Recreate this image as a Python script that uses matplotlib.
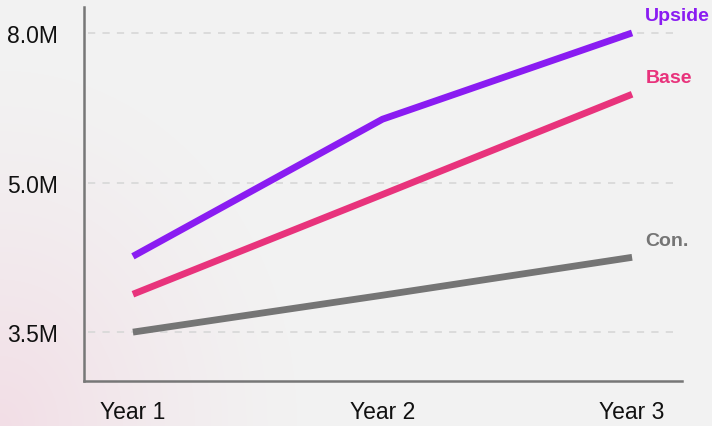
import numpy as np
import matplotlib
matplotlib.use("Agg")
import matplotlib.pyplot as plt

years = ["Year 1", "Year 2", "Year 3"]
upside = [4.26, 6.27, 8.0]
base = [3.88, 4.88, 6.77]
con = [3.5, 3.87, 4.25]
ytick_vals = [3.5, 5.0, 8.0]
ytick_labels = ["3.5M", "5.0M", "8.0M"]

series = [
    ("Upside", upside, "#8A1CF2"),
    ("Base", base, "#E8337C"),
    ("Con.", con, "#757575"),
]

plt.rcParams['font.family'] = ['Liberation Sans', 'DejaVu Sans']

fig = plt.figure(figsize=(7.12, 4.27), dpi=100)

# background with soft pink glow at lower left
H, W = 427, 712
yy, xx = np.mgrid[0:H, 0:W]
d = np.sqrt((xx / W * 1.8) ** 2 + ((H - yy) / H * 0.9) ** 2)
w = np.clip(1 - d / 0.75, 0, 1) ** 1.3
bgc = np.array([242, 242, 242]) / 255
pk = np.array([243, 222, 230]) / 255
img = bgc[None, None, :] * (1 - w[..., None]) + pk[None, None, :] * w[..., None]
axbg = fig.add_axes([0, 0, 1, 1], zorder=-10)
axbg.imshow(img, aspect='auto', origin='upper')
axbg.axis('off')


def fwd(v):
    v = np.asarray(v, dtype=float)
    return np.where(v < 5.0, (v - 3.5) / 1.5, 1 + (v - 5.0) / 3.0)


def inv(u):
    u = np.asarray(u, dtype=float)
    return np.where(u < 1.0, 3.5 + 1.5 * u, 5.0 + 3.0 * (u - 1))


ax = fig.add_axes([84 / 712, 1 - 382 / 427, (682 - 84) / 712, (382 - 8) / 427])
ax.patch.set_alpha(0)
ax.set_yscale('function', functions=(fwd, inv))

x = np.arange(len(years))
for name, vals, col in series:
    ax.plot(x, vals, color=col, lw=4.9, solid_capstyle='butt', zorder=3)

ax.set_xlim(-0.196, 2.2)
ax.set_ylim(3.01, 8.52)

for v in ytick_vals:
    ax.axhline(v, xmin=0.007, xmax=0.985, color='#d9d9d9', lw=1.3, ls=(0, (4, 4)), zorder=1)

ax.set_yticks(ytick_vals)
ax.set_yticklabels(ytick_labels)
ax.yaxis.set_minor_locator(matplotlib.ticker.NullLocator())
ax.set_xticks(x)
ax.set_xticklabels(years)
ax.tick_params(axis='both', length=0, labelsize=16.5, colors='#111111')
ax.tick_params(axis='y', pad=19)
ax.tick_params(axis='x', pad=14)

for s in ['top', 'right']:
    ax.spines[s].set_visible(False)
for s in ['left', 'bottom']:
    ax.spines[s].set_color('#777777')
    ax.spines[s].set_linewidth(1.8)

label_pos = {"Upside": 8.35, "Base": 7.11, "Con.": 4.42}
for name, vals, col in series:
    ax.annotate(name, xy=(2, label_pos[name]), xytext=(9.5, 0), textcoords='offset points',
                color=col, fontsize=14, fontweight='bold', va='center', ha='left',
                annotation_clip=False)

fig.savefig("out.png", dpi=100)
